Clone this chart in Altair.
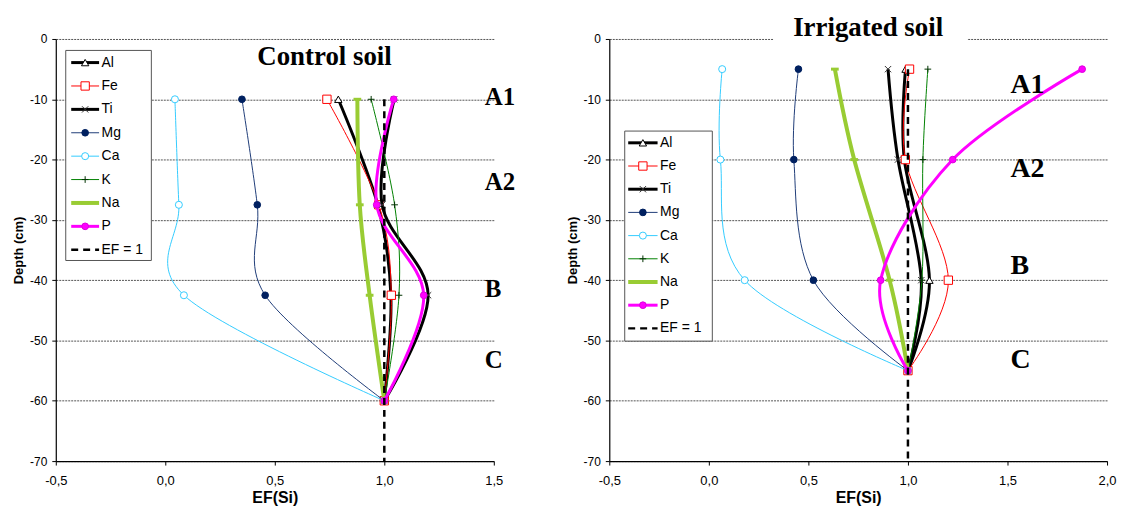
import altair as alt
import pandas as pd

SANS = "Liberation Sans"
SERIF = "Liberation Serif"

elements = ["Al", "Fe", "Ti", "Mg", "Ca", "K", "Na", "P"]

# Control soil
ctrl_depth = [-10, -27.5, -42.5, -60]
ctrl_al = [0.79, 0.97, 1.03, 1.0]
ctrl_fe = [0.738, 0.975, 1.032, 1.0]
ctrl_ti = [1.045, 0.99, 1.2, 1.0]
ctrl_mg = [0.35, 0.42, 0.456, 1.0]
ctrl_ca = [0.044, 0.062, 0.085, 1.0]
ctrl_k = [0.94, 1.047, 1.067, 1.0]
ctrl_na = [0.877, 0.888, 0.933, 1.0]
ctrl_p = [1.043, 0.965, 1.18, 1.0]

# Irrigated soil
irr_depth = [-5, -20, -40, -55]
irr_al = [0.988, 0.982, 1.108, 1.0]
irr_fe = [1.008, 0.987, 1.203, 1.0]
irr_ti = [0.9, 0.95, 1.067, 1.0]
irr_mg = [0.45, 0.427, 0.525, 1.0]
irr_ca = [0.067, 0.058, 0.18, 1.0]
irr_k = [1.1, 1.075, 1.07, 1.0]
irr_na = [0.633, 0.73, 0.908, 1.0]
irr_p = [1.875, 1.225, 0.863, 1.0]

horizons = ["A1", "A2", "B", "C"]
ctrl_hz_depth = [-9.7, -23.8, -41.4, -53.3]
irr_hz_depth = [-7.6, -21.6, -37.6, -53.3]

styles = {
    "Al": dict(line="#000000", lw=3, shape="triangle-up", fill="#FFFFFF", stroke="#000000", size=55, sw=1),
    "Fe": dict(line="#FF0000", lw=1, shape="square", fill="#FFFFFF", stroke="#FF0000", size=70, sw=1),
    "Ti": dict(line="#000000", lw=3, shape="M-1,-1L1,1M-1,1L1,-1", fill=None, stroke="#333333", size=40, sw=1),
    "Mg": dict(line="#1F3C78", lw=1, shape="circle", fill="#002060", stroke="#002060", size=45, sw=1),
    "Ca": dict(line="#33CCFF", lw=1, shape="circle", fill="#FFFFFF", stroke="#33CCFF", size=50, sw=1),
    "K": dict(line="#008000", lw=1, shape="M-1,0L1,0M0,-1L0,1", fill=None, stroke="#003300", size=45, sw=1),
    "Na": dict(line="#99CC33", lw=4, shape="M-1,0L1,0", fill=None, stroke="#99CC33", size=60, sw=3),
    "P": dict(line="#FF00FF", lw=3, shape="circle", fill="#FF00FF", stroke="#DD00DD", size=45, sw=1),
}


def point_kwargs(st):
    if st["fill"] is None:
        return dict(shape=st["shape"], filled=False, stroke=st["stroke"],
                    strokeWidth=st["sw"], size=st["size"], opacity=1)
    return dict(shape=st["shape"], filled=True, fill=st["fill"], stroke=st["stroke"],
                strokeWidth=st["sw"], size=st["size"], opacity=1, fillOpacity=1)


def panel(depths, series, xmax, width, title, title_ef, title_depth, title_size, title_box,
          hz_ef, hz_depth, hz_size, ef_top,
          leg_box, leg_row0, leg_step, leg_line, leg_text):
    xs = alt.Scale(domain=[-0.5, xmax], nice=False, zero=False)
    ys = alt.Scale(domain=[-70, 0], nice=False, zero=False)
    nt = int(round((xmax + 0.5) / 0.5)) + 1
    xticks = [-0.5 + 0.5 * i for i in range(nt)]
    xaxis = alt.Axis(values=xticks, grid=False, title="EF(Si)", labelFlush=False,
                     labelExpr="replace(replace(format(datum.value, '.1f'), '.', ','), '\u2212', '-')",
                     labelFont=SANS, labelFontSize=13, labelColor="#000", labelPadding=10,
                     tickSize=4, tickColor="#000", domainColor="#000", domainWidth=1.2,
                     titleFont=SANS, titleFontSize=16, titleFontWeight="bold", titleColor="#000",
                     titlePadding=2)
    yaxis = alt.Axis(values=list(range(-70, 1, 10)), grid=True, gridDash=[2, 1], gridColor="#555555",
                     gridWidth=1, title="Depth (cm)", labelExpr="toString(datum.value)", labelFlush=False,
                     labelFont=SANS, labelFontSize=12, labelColor="#000", labelPadding=5,
                     tickSize=4, tickColor="#000", domainColor="#000", domainWidth=1.2,
                     titleFont=SANS, titleFontSize=13, titleFontWeight="bold", titleColor="#000",
                     titlePadding=4)
    X = alt.X("ef:Q", scale=xs, axis=xaxis)
    Y = alt.Y("depth:Q", scale=ys, axis=yaxis)

    layers = []
    if title_box is not None:
        bdf = pd.DataFrame({"ef": [title_box[0]], "ef2": [title_box[1]],
                            "depth": [title_box[2]], "depth2": [title_box[3]]})
        layers.append(alt.Chart(bdf).mark_rect(fill="#FFFFFF").encode(
            x=X, x2="ef2:Q", y=Y, y2="depth2:Q"))

    for name, vals in zip(elements, series):
        st = styles[name]
        df = pd.DataFrame({"ef": vals, "depth": depths})
        ln = alt.Chart(df).mark_line(interpolate="cardinal", color=st["line"], strokeWidth=st["lw"]).encode(
            x=X, y=Y, order=alt.Order("depth:Q", sort="descending"))
        pt = alt.Chart(df).mark_point(**point_kwargs(st)).encode(x=X, y=Y)
        layers += [ln, pt]

    ef_df = pd.DataFrame({"ef": [1.0, 1.0], "depth": [ef_top, -70]})
    layers.append(alt.Chart(ef_df).mark_line(color="#000", strokeWidth=2.5, strokeDash=[7, 5]).encode(
        x=X, y=Y, order=alt.Order("depth:Q", sort="descending")))

    hz_df = pd.DataFrame({"label": horizons, "ef": [hz_ef] * 4, "depth": hz_depth})
    layers.append(alt.Chart(hz_df).mark_text(font=SERIF, fontSize=hz_size, fontWeight="bold", align="left",
                                             baseline="middle", color="#000").encode(x=X, y=Y, text="label:N"))
    t_df = pd.DataFrame({"label": [title], "ef": [title_ef], "depth": [title_depth]})
    layers.append(alt.Chart(t_df).mark_text(font=SERIF, fontSize=title_size, fontWeight="bold", align="center",
                                            baseline="middle", color="#000").encode(x=X, y=Y, text="label:N"))

    # legend
    one = pd.DataFrame({"a": [0]})
    bx0, bx1, by0, by1 = leg_box
    layers.append(alt.Chart(one).mark_rect(fill="#FFFFFF", stroke="#555555", strokeWidth=1).encode(
        x=alt.value(bx0), x2=alt.value(bx1), y=alt.value(by0), y2=alt.value(by1)))
    lx0, lx1 = leg_line
    for i, name in enumerate(elements + ["EF = 1"]):
        yy = leg_row0 + i * leg_step
        if name == "EF = 1":
            layers.append(alt.Chart(one).mark_rule(color="#000", strokeWidth=2.5, strokeDash=[7, 5]).encode(
                x=alt.value(lx0), x2=alt.value(lx1), y=alt.value(yy)))
        else:
            st = styles[name]
            layers.append(alt.Chart(one).mark_rule(color=st["line"], strokeWidth=st["lw"]).encode(
                x=alt.value(lx0), x2=alt.value(lx1), y=alt.value(yy)))
            layers.append(alt.Chart(one).mark_point(**point_kwargs(st)).encode(
                x=alt.value((lx0 + lx1) / 2), y=alt.value(yy)))
        layers.append(alt.Chart(one).mark_text(font=SANS, fontSize=14, align="left", baseline="middle",
                                               color="#000").encode(
            x=alt.value(leg_text), y=alt.value(yy), text=alt.value(name)))

    return alt.layer(*layers).properties(width=width, height=424)


left = panel(ctrl_depth, [ctrl_al, ctrl_fe, ctrl_ti, ctrl_mg, ctrl_ca, ctrl_k, ctrl_na, ctrl_p],
             1.5, 440, "Control soil", 0.727, -3.0, 27, None, 1.459, ctrl_hz_depth, 25, -10,
             (10, 96, 11.5, 222.5), 23.7, 23.5, (15.5, 43.5), 46)
right = panel(irr_depth, [irr_al, irr_fe, irr_ti, irr_mg, irr_ca, irr_k, irr_na, irr_p],
              2.0, 500, "Irrigated soil", 0.80, 1.8, 27, (0.325, 1.3, 3.5, -0.8),
              1.515, irr_hz_depth, 28, -5,
              (15.5, 103.5, 92.5, 303.5), 104.3, 23.3, (19, 48.5), 51)

chart = alt.hconcat(left, right, spacing=50).properties(
    padding={"left": 4, "top": 5, "right": 0, "bottom": 0}
).configure_view(stroke=None)

chart.save("out.html", embed_options={"renderer": "svg", "actions": False})
